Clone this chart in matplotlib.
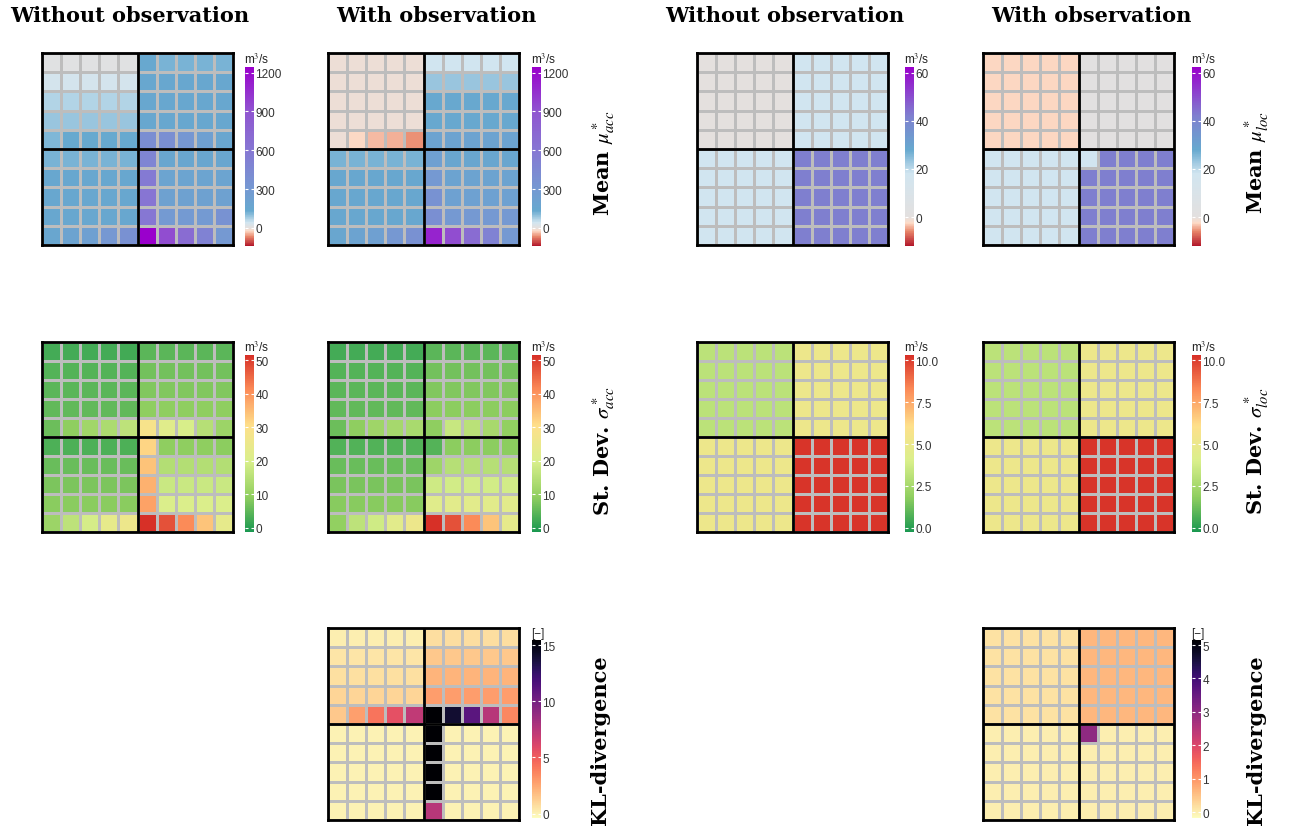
import matplotlib
matplotlib.use("Agg")
import matplotlib.pyplot as plt
import numpy as np
from matplotlib.colors import LinearSegmentedColormap, Normalize
from matplotlib.cm import ScalarMappable

plt.rcParams["mathtext.fontset"] = "stix"

# ---- data (rows top to bottom, 10 x 10 cells) ----
mean_acc_without = [
    [10, 10, 10, 10, 10, 140, 115, 115, 115, 115],
    [38, 38, 38, 38, 38, 150, 150, 150, 150, 150],
    [67, 67, 67, 67, 67, 150, 150, 150, 150, 150],
    [90, 90, 90, 90, 90, 150, 150, 150, 150, 150],
    [112, 135, 135, 135, 135, 400, 390, 320, 230, 160],
    [115, 115, 115, 115, 115, 480, 160, 160, 160, 160],
    [150, 150, 150, 150, 150, 570, 185, 185, 185, 185],
    [150, 150, 150, 150, 150, 620, 215, 215, 215, 215],
    [150, 150, 150, 150, 150, 600, 290, 290, 290, 360],
    [160, 200, 230, 310, 370, 1240, 930, 700, 500, 300],
]
mean_acc_with = [
    [-6, -6, -6, -6, -6, 40, 40, 40, 40, 40],
    [-6, -6, -6, -6, -6, 90, 90, 90, 90, 90],
    [-6, -6, -6, -6, -6, 140, 140, 140, 140, 140],
    [-6, -6, -6, -6, -6, 140, 140, 140, 140, 140],
    [-10, -22, -38, -48, -60, 200, 200, 200, 200, 200],
    [115, 115, 115, 115, 115, 230, 160, 160, 160, 160],
    [150, 150, 150, 150, 150, 300, 200, 200, 200, 200],
    [150, 150, 150, 150, 150, 360, 220, 220, 220, 220],
    [150, 150, 150, 150, 150, 390, 300, 300, 300, 300],
    [160, 200, 230, 310, 370, 1100, 930, 700, 500, 300],
]
std_acc_without = [
    [2.6, 2.6, 2.6, 2.6, 2.4, 4.7, 4.7, 4.7, 4.7, 4.7],
    [4.1, 4.1, 4.1, 4.1, 4.1, 6.8, 6.8, 6.8, 6.8, 6.8],
    [4.7, 4.7, 4.7, 4.7, 4.7, 7.9, 7.9, 7.9, 7.9, 7.9],
    [5.2, 5.2, 5.2, 5.2, 5.2, 9.3, 9.3, 9.3, 9.3, 9.3],
    [6.1, 9.2, 11.7, 13.4, 15.9, 28.3, 22.0, 19.7, 14.8, 11.0],
    [3.5, 3.5, 3.5, 3.5, 3.5, 32.0, 9.2, 9.2, 9.2, 9.0],
    [6.0, 6.0, 6.0, 6.0, 6.0, 34.2, 14.4, 14.4, 14.4, 14.4],
    [7.5, 7.5, 7.5, 7.5, 7.5, 36.4, 17.7, 17.7, 17.7, 17.7],
    [8.8, 8.8, 8.8, 8.8, 8.8, 38.3, 20.5, 20.5, 20.5, 20.5],
    [11.0, 15.8, 19.3, 23.7, 25.7, 51.5, 47.8, 41.2, 33.9, 23.7],
]
std_acc_with = [
    [2.6, 2.6, 2.6, 2.6, 2.6, 4.7, 4.7, 4.7, 4.7, 4.7],
    [4.1, 4.1, 4.1, 4.1, 4.1, 6.8, 6.8, 6.8, 6.8, 6.8],
    [4.7, 4.7, 4.7, 4.7, 4.7, 7.9, 7.9, 7.9, 7.9, 7.9],
    [5.2, 5.2, 5.2, 5.2, 5.2, 9.0, 9.0, 9.0, 9.0, 9.0],
    [6.1, 9.2, 11.5, 12.5, 13.0, 9.3, 17.2, 15.3, 12.8, 9.7],
    [3.8, 3.8, 3.8, 3.8, 3.8, 4.1, 9.0, 9.0, 9.0, 9.0],
    [6.0, 6.0, 6.0, 6.0, 6.0, 11.3, 14.8, 14.8, 14.8, 14.8],
    [7.4, 7.4, 7.4, 7.4, 7.4, 18.2, 19.0, 19.0, 19.0, 19.0],
    [8.6, 8.6, 8.6, 8.6, 8.6, 21.7, 22.5, 22.5, 22.5, 22.5],
    [9.7, 15.8, 18.5, 22.5, 25.7, 51.5, 47.8, 41.2, 33.9, 23.7],
]
kl_acc = [
    [0.15, 0.15, 0.15, 0.15, 0.15, 0.7, 0.7, 0.7, 0.7, 0.7],
    [0.45, 0.45, 0.45, 0.45, 0.45, 1.4, 1.4, 1.4, 1.4, 1.4],
    [0.6, 0.6, 0.6, 0.6, 0.6, 2.1, 2.1, 2.1, 2.1, 2.1],
    [1.0, 1.0, 1.0, 1.0, 1.0, 2.85, 2.85, 2.85, 2.85, 2.85],
    [1.4, 2.8, 4.2, 5.6, 7.1, 15.4, 14.0, 11.1, 7.5, 3.6],
    [0, 0, 0, 0, 0, 15.4, 0, 0, 0, 0],
    [0, 0, 0, 0, 0, 15.4, 0, 0, 0, 0],
    [0, 0, 0, 0, 0, 15.4, 0, 0, 0, 0],
    [0, 0, 0, 0, 0, 15.4, 0, 0, 0, 0],
    [0, 0, 0, 0, 0, 7.5, 0, 0, 0, 0],
]
# loc panels: one value per 5x5 quadrant (TL, TR, BL, BR) plus single-cell exceptions
mean_loc_without_q = [0, 18, 18, 42]
mean_loc_with_q = [-2.5, 1, 18, 42]
mean_loc_with_cell55 = 18
std_loc_without_q = [3.1, 5.1, 5.1, 10.2]
std_loc_with_q = [3.1, 5.1, 5.1, 10.2]
kl_loc_q = [0.16, 0.64, 0, 0]
kl_loc_cell55 = 3.0

titles = ["Without observation", "With observation",
          "Without observation", "With observation"]
title_x = [130, 436, 785, 1091]


def quadrants(q):
    g = np.zeros((10, 10))
    g[:5, :5], g[:5, 5:], g[5:, :5], g[5:, 5:] = q
    return g


mean_loc_without = quadrants(mean_loc_without_q)
mean_loc_with = quadrants(mean_loc_with_q)
mean_loc_with[5, 5] = mean_loc_with_cell55
std_loc_without = quadrants(std_loc_without_q)
std_loc_with = quadrants(std_loc_with_q)
kl_loc = quadrants(kl_loc_q)
kl_loc[5, 5] = kl_loc_cell55


def node_cmap(nodes, colors, vmin, vmax):
    pos = [(v - vmin) / (vmax - vmin) for v in nodes]
    return LinearSegmentedColormap.from_list("c", list(zip(pos, colors)))


mean_acc_rng = (-140, 1243)
mean_acc_cmap = node_cmap(
    [-140, -70, -25, 0, 40, 130, 300, 600, 900, 1243],
    ["#b2182b", "#e8866a", "#fddbc7", "#e3e0df", "#d1e5f0", "#67a9cf",
     "#7599d2", "#8677d3", "#9055d0", "#9a00cc"], *mean_acc_rng)
mean_loc_rng = (-12, 62.3)
mean_loc_cmap = node_cmap(
    [-12, -6, -2.5, 0, 18, 28, 42, 62.3],
    ["#b2182b", "#e8866a", "#fddbc7", "#e3e0df", "#d1e5f0", "#67a9cf",
     "#7f80cf", "#9a00cc"], *mean_loc_rng)
std_colors = ["#1a9850", "#91cf60", "#d9ef8b", "#fee08b", "#fc8d59", "#d73027"]
std_cmap = LinearSegmentedColormap.from_list("std", std_colors)
std_acc_rng = (-1.2, 51.6)
std_loc_rng = (-0.24, 10.3)
kl_cmap = plt.get_cmap("magma_r")
kl_acc_rng = (-0.4, 15.45)
kl_loc_rng = (-0.17, 5.15)

W, H = 1294, 828
fig = plt.figure(figsize=(W / 100, H / 100), dpi=100)

col_x = [42, 328, 697, 983]
cbar_x = [245, 532, 905, 1192]
row_y = [(54, 246), (343, 533), (629, 821)]
cbar_y = [(68, 247), (356, 533), (641, 819)]
pw = 191


def fig_rect(x0, y0, x1, y1):
    return [x0 / W, 1 - y1 / H, (x1 - x0) / W, (y1 - y0) / H]


def panel(col, row, data, cmap, rng, ticks, ticklabels, unit):
    y0, y1 = row_y[row]
    ax = fig.add_axes(fig_rect(col_x[col], y0, col_x[col] + pw, y1))
    norm = Normalize(*rng)
    ax.pcolormesh(np.asarray(data, float), cmap=cmap, norm=norm,
                  edgecolors="#bdbdbd", linewidth=0.9)
    ax.set_xlim(0, 10)
    ax.set_ylim(10, 0)
    ax.axhline(5, color="black", lw=2)
    ax.axvline(5, color="black", lw=2)
    ax.set_xticks([])
    ax.set_yticks([])
    for s in ax.spines.values():
        s.set_linewidth(2)
        s.set_color("black")

    cy0, cy1 = cbar_y[row]
    cax = fig.add_axes(fig_rect(cbar_x[col], cy0, cbar_x[col] + 9, cy1))
    cb = fig.colorbar(ScalarMappable(norm=norm, cmap=cmap), cax=cax)
    cb.outline.set_visible(False)
    cb.set_ticks(ticks)
    cb.set_ticklabels(ticklabels)
    cax.tick_params(direction="in", color="white", length=2, width=0.8,
                    left=True, right=True, labelsize=8.5, labelcolor="#333333",
                    pad=1)
    for t in cax.get_yticklabels():
        t.set_family("Liberation Sans")
    fig.text((cbar_x[col] - 1) / W, 1 - (cy0 - 1) / H, unit,
             ha="left", va="bottom", fontsize=8.5, family="Liberation Sans",
             color="#222222")


m3s = "m$^3$/s"
panel(0, 0, mean_acc_without, mean_acc_cmap, mean_acc_rng,
      [0, 300, 600, 900, 1200], ["0", "300", "600", "900", "1200"], m3s)
panel(1, 0, mean_acc_with, mean_acc_cmap, mean_acc_rng,
      [0, 300, 600, 900, 1200], ["0", "300", "600", "900", "1200"], m3s)
panel(2, 0, mean_loc_without, mean_loc_cmap, mean_loc_rng,
      [0, 20, 40, 60], ["0", "20", "40", "60"], m3s)
panel(3, 0, mean_loc_with, mean_loc_cmap, mean_loc_rng,
      [0, 20, 40, 60], ["0", "20", "40", "60"], m3s)

acc_std_ticks = [0, 10, 20, 30, 40, 50]
loc_std_ticks = [0, 2.5, 5, 7.5, 10]
panel(0, 1, std_acc_without, std_cmap, std_acc_rng,
      acc_std_ticks, [str(t) for t in acc_std_ticks], m3s)
panel(1, 1, std_acc_with, std_cmap, std_acc_rng,
      acc_std_ticks, [str(t) for t in acc_std_ticks], m3s)
panel(2, 1, std_loc_without, std_cmap, std_loc_rng,
      loc_std_ticks, [f"{t:.1f}" for t in loc_std_ticks], m3s)
panel(3, 1, std_loc_with, std_cmap, std_loc_rng,
      loc_std_ticks, [f"{t:.1f}" for t in loc_std_ticks], m3s)

panel(1, 2, kl_acc, kl_cmap, kl_acc_rng,
      [0, 5, 10, 15], ["0", "5", "10", "15"], "[\u2212]")
panel(3, 2, kl_loc, kl_cmap, kl_loc_rng,
      [0, 1, 2, 3, 4, 5], ["0", "1", "2", "3", "4", "5"], "[\u2212]")

for t, x in zip(titles, title_x):
    fig.text(x / W, 1 - 16 / H, t, ha="center", va="center",
             fontsize=15, fontweight="bold", family="DejaVu Serif")

row_labels = [
    (604, 163, r"Mean $\mu^*_{acc}$"),
    (604, 451, r"St. Dev. $\sigma^*_{acc}$"),
    (600, 740, "KL-divergence"),
    (1257, 163, r"Mean $\mu^*_{loc}$"),
    (1257, 451, r"St. Dev. $\sigma^*_{loc}$"),
    (1256, 740, "KL-divergence"),
]
for x, y, s in row_labels:
    fig.text(x / W, 1 - y / H, s, rotation=90, ha="center", va="center",
             fontsize=15, fontweight="bold", family="DejaVu Serif")

fig.savefig("out.png", dpi=100)
